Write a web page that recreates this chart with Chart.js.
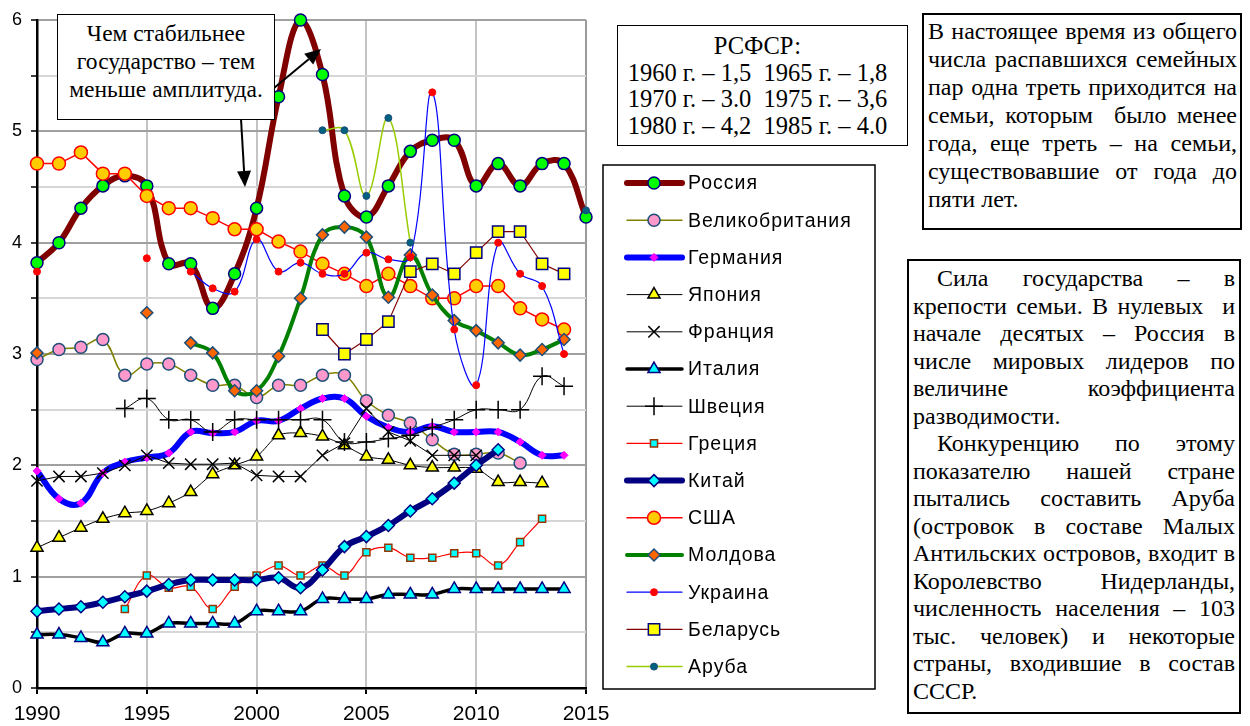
<!DOCTYPE html>
<html lang="ru">
<head>
<meta charset="utf-8">
<title>Коэффициент разводимости</title>
<script src="https://cdn.jsdelivr.net/npm/chart.js@4.4.1/dist/chart.umd.min.js"></script>
<style>
  html, body { margin: 0; padding: 0; background: #fff; }
  #wrap { position: relative; width: 1250px; height: 726px; overflow: hidden; }
  #chart { position: absolute; left: 0; top: 0; }
  .box {
    position: absolute; box-sizing: border-box; background: #fff;
    border: 1.5px solid #000; color: #000;
    font-family: 'Times New Roman', 'Liberation Serif', serif; font-size: 24px;
  }
  .center { text-align: center; }
  .ln { text-align: justify; text-align-last: justify; white-space: nowrap; }
  .end { text-align: left; text-align-last: left; }
  .ind { text-indent: 24px; }
</style>
</head>
<body>
<div id="wrap">
  <canvas id="chart" width="1250" height="726"></canvas>

  <div class="box center" style="left:57px;top:14px;width:218px;height:106px;padding-top:4px;line-height:28px;font-size:23.5px;">
    Чем стабильнее<br>государство – тем<br>меньше амплитуда.
  </div>

  <div class="box center" style="left:617px;top:25px;width:291px;height:121px;padding:7px 10px 0 0;line-height:26.5px;font-size:24.5px;">
    РСФСР:<br>1960 г. – 1,5&nbsp; 1965 г. – 1,8<br>1970 г. – 3.0&nbsp; 1975 г. – 3,6<br>1980 г. – 4,2&nbsp; 1985 г. – 4.0
  </div>

  <div class="box" style="left:922px;top:13px;width:320px;height:217px;border-width:2px;padding:2px 3px 0 4px;line-height:28px;">
    <div class="ln">В настоящее время из общего</div>
    <div class="ln">числа распавшихся семейных</div>
    <div class="ln">пар одна треть приходится на</div>
    <div class="ln">семьи, которым&nbsp; было менее</div>
    <div class="ln">года, еще треть – на семьи,</div>
    <div class="ln">существовавшие от года до</div>
    <div class="ln end">пяти лет.</div>
  </div>

  <div class="box" style="left:907px;top:259px;width:334px;height:455px;border-width:2px;padding:4px 4px 0 4px;line-height:27.5px;">
    <div class="ln ind">Сила государства – в</div>
    <div class="ln">крепости семьи. В нулевых&nbsp; и</div>
    <div class="ln">начале десятых – Россия в</div>
    <div class="ln">числе мировых лидеров по</div>
    <div class="ln">величине коэффициента</div>
    <div class="ln end">разводимости.</div>
    <div class="ln ind">Конкуренцию по этому</div>
    <div class="ln">показателю нашей стране</div>
    <div class="ln">пытались составить Аруба</div>
    <div class="ln">(островок в составе Малых</div>
    <div class="ln">Антильских островов, входит в</div>
    <div class="ln">Королевство Нидерланды,</div>
    <div class="ln">численность населения – 103</div>
    <div class="ln">тыс. человек) и некоторые</div>
    <div class="ln">страны, входившие в состав</div>
    <div class="ln end">СССР.</div>
  </div>
</div>

<script>
// годы наблюдений
const years = [1990, 1991, 1992, 1993, 1994, 1995, 1996, 1997, 1998, 1999,
               2000, 2001, 2002, 2003, 2004, 2005, 2006, 2007, 2008, 2009,
               2010, 2011, 2012, 2013, 2014, 2015];

// коэффициент разводимости, на 1000 человек
const russia  = [3.82, 4.0, 4.31, 4.51, 4.6, 4.51, 3.81, 3.81, 3.41, 3.72, 4.31, 5.31, 6.0, 5.51, 4.42, 4.23, 4.51, 4.82, 4.92, 4.92, 4.51, 4.71, 4.51, 4.71, 4.71, 4.23];
const uk      = [2.95, 3.04, 3.06, 3.13, 2.81, 2.91, 2.91, 2.81, 2.72, 2.72, 2.61, 2.72, 2.72, 2.81, 2.81, 2.58, 2.45, 2.38, 2.23, 2.1, 2.1, 2.11, 2.02, null, null, null];
const germany = [1.95, 1.7, 1.66, 1.93, 2.03, 2.07, 2.11, 2.3, 2.29, 2.3, 2.4, 2.4, 2.51, 2.6, 2.6, 2.44, 2.34, 2.3, 2.35, 2.3, 2.3, 2.3, 2.21, 2.09, 2.09, null];
const japan   = [1.26, 1.35, 1.44, 1.52, 1.57, 1.59, 1.66, 1.76, 1.92, 2.0, 2.08, 2.27, 2.29, 2.26, 2.18, 2.08, 2.05, 2.0, 1.98, 1.98, 1.97, 1.85, 1.85, 1.84, null, null];
const france  = [1.86, 1.9, 1.9, 1.93, 2.0, 2.09, 2.02, 2.01, 2.01, 2.02, 1.91, 1.9, 1.9, 2.09, 2.2, 2.51, 2.3, 2.22, 2.09, 2.09, 2.09, null, null, null, null, null];
const italy   = [0.48, 0.48, 0.45, 0.41, 0.49, 0.49, 0.58, 0.58, 0.58, 0.58, 0.69, 0.69, 0.69, 0.8, 0.8, 0.8, 0.84, 0.84, 0.84, 0.89, 0.89, 0.89, 0.89, 0.89, 0.89, null];
const sweden  = [null, null, null, null, 2.51, 2.6, 2.41, 2.41, 2.3, 2.41, 2.41, 2.41, 2.41, 2.41, 2.21, 2.21, 2.24, 2.27, 2.34, 2.41, 2.5, 2.5, 2.5, 2.8, 2.71, null];
const greece  = [null, null, null, null, 0.71, 1.01, 0.9, 0.91, 0.71, 0.91, 1.01, 1.1, 1.01, 1.1, 1.01, 1.22, 1.26, 1.17, 1.17, 1.21, 1.21, 1.1, 1.31, 1.52, null, null];
const china   = [0.69, 0.71, 0.73, 0.77, 0.82, 0.87, 0.93, 0.97, 0.97, 0.97, 0.97, 0.99, 0.9, 1.06, 1.27, 1.36, 1.46, 1.59, 1.7, 1.84, 2.0, 2.14, null, null, null, null];
const usa     = [4.71, 4.71, 4.81, 4.62, 4.62, 4.42, 4.31, 4.31, 4.22, 4.12, 4.12, 4.01, 3.92, 3.81, 3.72, 3.61, 3.72, 3.61, 3.5, 3.5, 3.61, 3.61, 3.41, 3.31, 3.22, null];
const moldova = [3.01, null, null, null, null, 3.37, null, 3.1, 3.01, 2.67, 2.67, 2.98, 3.5, 4.07, 4.14, 4.05, 3.51, 3.89, 3.53, 3.3, 3.21, 3.1, 2.99, 3.04, 3.13, null];
const ukraine = [3.74, null, null, null, null, 3.86, null, 3.74, 3.59, 3.56, 4.03, 3.74, 3.82, 3.72, 3.72, 3.91, 3.85, 3.87, 5.35, 3.22, 2.72, 4.0, 3.72, 3.61, 3.0, null];
const belarus = [null, null, null, null, null, null, null, null, null, null, null, null, null, 3.22, 3.0, 3.13, 3.29, 3.74, 3.81, 3.72, 3.91, 4.1, 4.1, 3.81, 3.72, null];
const aruba   = [null, null, null, null, null, null, null, null, null, null, null, null, null, 5.01, 5.01, 4.42, 5.12, 4.0, null, null, null, null, null, null, null, 4.29];

const yTicks = [0, 1, 2, 3, 4, 5, 6];

// оформление рядов в порядке легенды
const series = [
  { label: 'Россия',         values: russia,  line: '#800000', lw: 6,   shape: 'circle',   r: 6,   fill: '#00ff00', edge: '#000080', bw: 1.5, t: 0.4 },
  { label: 'Великобритания', values: uk,      line: '#808000', lw: 1.5, shape: 'circle',   r: 6,   fill: '#ff99cc', edge: '#1f4e79', bw: 1.5, t: 0.4 },
  { label: 'Германия',       values: germany, line: '#0000ff', lw: 6,   shape: 'rectRot',  r: 4,   fill: '#ff00ff', edge: '#ff00ff', bw: 1,   t: 0.4 },
  { label: 'Япония',         values: japan,   line: '#000000', lw: 1,   shape: 'triangle', r: 7,   fill: '#ffff00', edge: '#000000', bw: 1.5, t: 0.3 },
  { label: 'Франция',        values: france,  line: '#000000', lw: 1,   shape: 'crossRot', r: 8,   fill: '#000000', edge: '#000000', bw: 1.5, t: 0 },
  { label: 'Италия',         values: italy,   line: '#000000', lw: 3.5, shape: 'triangle', r: 7,   fill: '#00ffff', edge: '#000080', bw: 1.5, t: 0.4 },
  { label: 'Швеция',         values: sweden,  line: '#000000', lw: 1,   shape: 'cross',    r: 9,   fill: '#000000', edge: '#000000', bw: 1.5, t: 0.4 },
  { label: 'Греция',         values: greece,  line: '#ff0000', lw: 1.2, shape: 'rect',     r: 5,   fill: '#00ffff', edge: '#993300', bw: 1.5, t: 0.4 },
  { label: 'Китай',          values: china,   line: '#000080', lw: 6,   shape: 'rectRot',  r: 6,   fill: '#00ffff', edge: '#000080', bw: 1.5, t: 0.4 },
  { label: 'США',            values: usa,     line: '#ff0000', lw: 1.5, shape: 'circle',   r: 6.5, fill: '#ffcc00', edge: '#ff0000', bw: 1.5, t: 0 },
  { label: 'Молдова',        values: moldova, line: '#008000', lw: 4,   shape: 'rectRot',  r: 6,   fill: '#ff6600', edge: '#1f4e79', bw: 1.5, t: 0.4 },
  { label: 'Украина',        values: ukraine, line: '#0000ff', lw: 1.2, shape: 'circle',   r: 3.5, fill: '#ff0000', edge: '#ff0000', bw: 1,   t: 0.4 },
  { label: 'Беларусь',       values: belarus, line: '#800000', lw: 1.2, shape: 'rect',     r: 8,   fill: '#ffff00', edge: '#000080', bw: 1.5, t: 0 },
  { label: 'Аруба',          values: aruba,   line: '#99cc00', lw: 1.5, shape: 'circle',   r: 3.5, fill: '#006080', edge: '#1f4e79', bw: 1,   t: 0.4 }
];

const datasets = series.map((s, i) => ({
  label: s.label,
  data: years.map((yr, k) => ({ x: yr, y: s.values[k] })),
  borderColor: s.line,
  borderWidth: s.lw,
  pointStyle: s.shape,
  pointRadius: s.r,
  pointHoverRadius: s.r,
  pointBackgroundColor: s.fill,
  pointBorderColor: s.edge,
  pointBorderWidth: s.bw,
  tension: s.t,
  spanGaps: false,
  clip: false,
  order: series.length - i // последние ряды рисуются поверх
}));

// легенда в рамке справа от графика
const sideLegend = {
  id: 'sideLegend',
  afterDraw(chart) {
    const ctx = chart.ctx;
    ctx.save();
    ctx.fillStyle = '#fff';
    ctx.strokeStyle = '#000';
    ctx.lineWidth = 1.5;
    ctx.fillRect(603, 165, 272, 524);
    ctx.strokeRect(603, 165, 272, 524);
    ctx.font = '19.5px Arial, "Liberation Sans", sans-serif';
    ctx.letterSpacing = '1px';
    ctx.textBaseline = 'middle';
    chart.data.datasets.forEach((ds, i) => {
      const y = 183 + i * 37.2;
      ctx.strokeStyle = ds.borderColor;
      ctx.lineWidth = ds.borderWidth;
      ctx.lineCap = 'round';
      ctx.beginPath();
      ctx.moveTo(627, y);
      ctx.lineTo(682, y);
      ctx.stroke();
      ctx.fillStyle = ds.pointBackgroundColor;
      ctx.strokeStyle = ds.pointBorderColor;
      ctx.lineWidth = ds.pointBorderWidth;
      ctx.lineCap = 'butt';
      Chart.helpers.drawPoint(ctx, {
        pointStyle: ds.pointStyle, radius: ds.pointRadius,
        borderWidth: ds.pointBorderWidth, rotation: 0
      }, 654, y);
      ctx.fillStyle = '#000';
      ctx.fillText(ds.label, 688, y + 1);
    });
    ctx.restore();
  }
};

// стрелки от подписи к пику кривой России
const calloutArrows = {
  id: 'calloutArrows',
  afterDraw(chart) {
    const ctx = chart.ctx;
    const arrow = (x0, y0, x1, y1) => {
      const a = Math.atan2(y1 - y0, x1 - x0);
      const len = 16, half = 7;
      const bx = x1 - Math.cos(a) * len, by = y1 - Math.sin(a) * len;
      ctx.beginPath();
      ctx.moveTo(x0, y0);
      ctx.lineTo(bx, by);
      ctx.stroke();
      ctx.beginPath();
      ctx.moveTo(x1, y1);
      ctx.lineTo(bx + Math.sin(a) * half, by - Math.cos(a) * half);
      ctx.lineTo(bx - Math.sin(a) * half, by + Math.cos(a) * half);
      ctx.closePath();
      ctx.fill();
    };
    ctx.save();
    ctx.strokeStyle = '#000';
    ctx.fillStyle = '#000';
    ctx.lineWidth = 2;
    arrow(241, 119, 245, 187);
    arrow(274, 88, 321, 49);
    ctx.restore();
  }
};

new Chart(document.getElementById('chart'), {
  type: 'line',
  data: { datasets },
  options: {
    responsive: false,
    animation: false,
    events: [],
    layout: { padding: { left: 0, top: 20, right: 664, bottom: 0 } },
    plugins: { legend: { display: false }, tooltip: { enabled: false } },
    scales: {
      x: {
        type: 'linear',
        min: years[0],
        max: years[years.length - 1],
        ticks: {
          stepSize: 5,
          color: '#000',
          padding: 8,
          font: { family: 'Arial, "Liberation Sans", sans-serif', size: 21 },
          callback: (v) => String(v)
        },
        grid: {
          color: (c) => (c.tick && c.tick.value === 2015 ? '#9a9a9a' : '#c4c4c4'),
          lineWidth: 2,
          tickColor: '#000',
          tickLength: 6,
          tickWidth: 2
        },
        border: { color: '#000', width: 2.5 },
        afterFit: (s) => { s.height = 38; }
      },
      y: {
        min: yTicks[0],
        max: yTicks[yTicks.length - 1],
        ticks: {
          stepSize: 0.5,
          color: '#000',
          padding: 9,
          font: { family: 'Arial, "Liberation Sans", sans-serif', size: 18 },
          callback: (v) => (yTicks.includes(v) ? String(v) : '')
        },
        grid: {
          color: (c) => (c.tick && Number.isInteger(c.tick.value) ? '#a0a0a0' : '#d6d6d6'),
          lineWidth: 2,
          tickColor: '#000',
          tickLength: 6,
          tickWidth: 1.5
        },
        border: { color: '#000', width: 2.5 },
        afterFit: (s) => { s.width = 37; }
      }
    }
  },
  plugins: [sideLegend, calloutArrows]
});
</script>
</body>
</html>
